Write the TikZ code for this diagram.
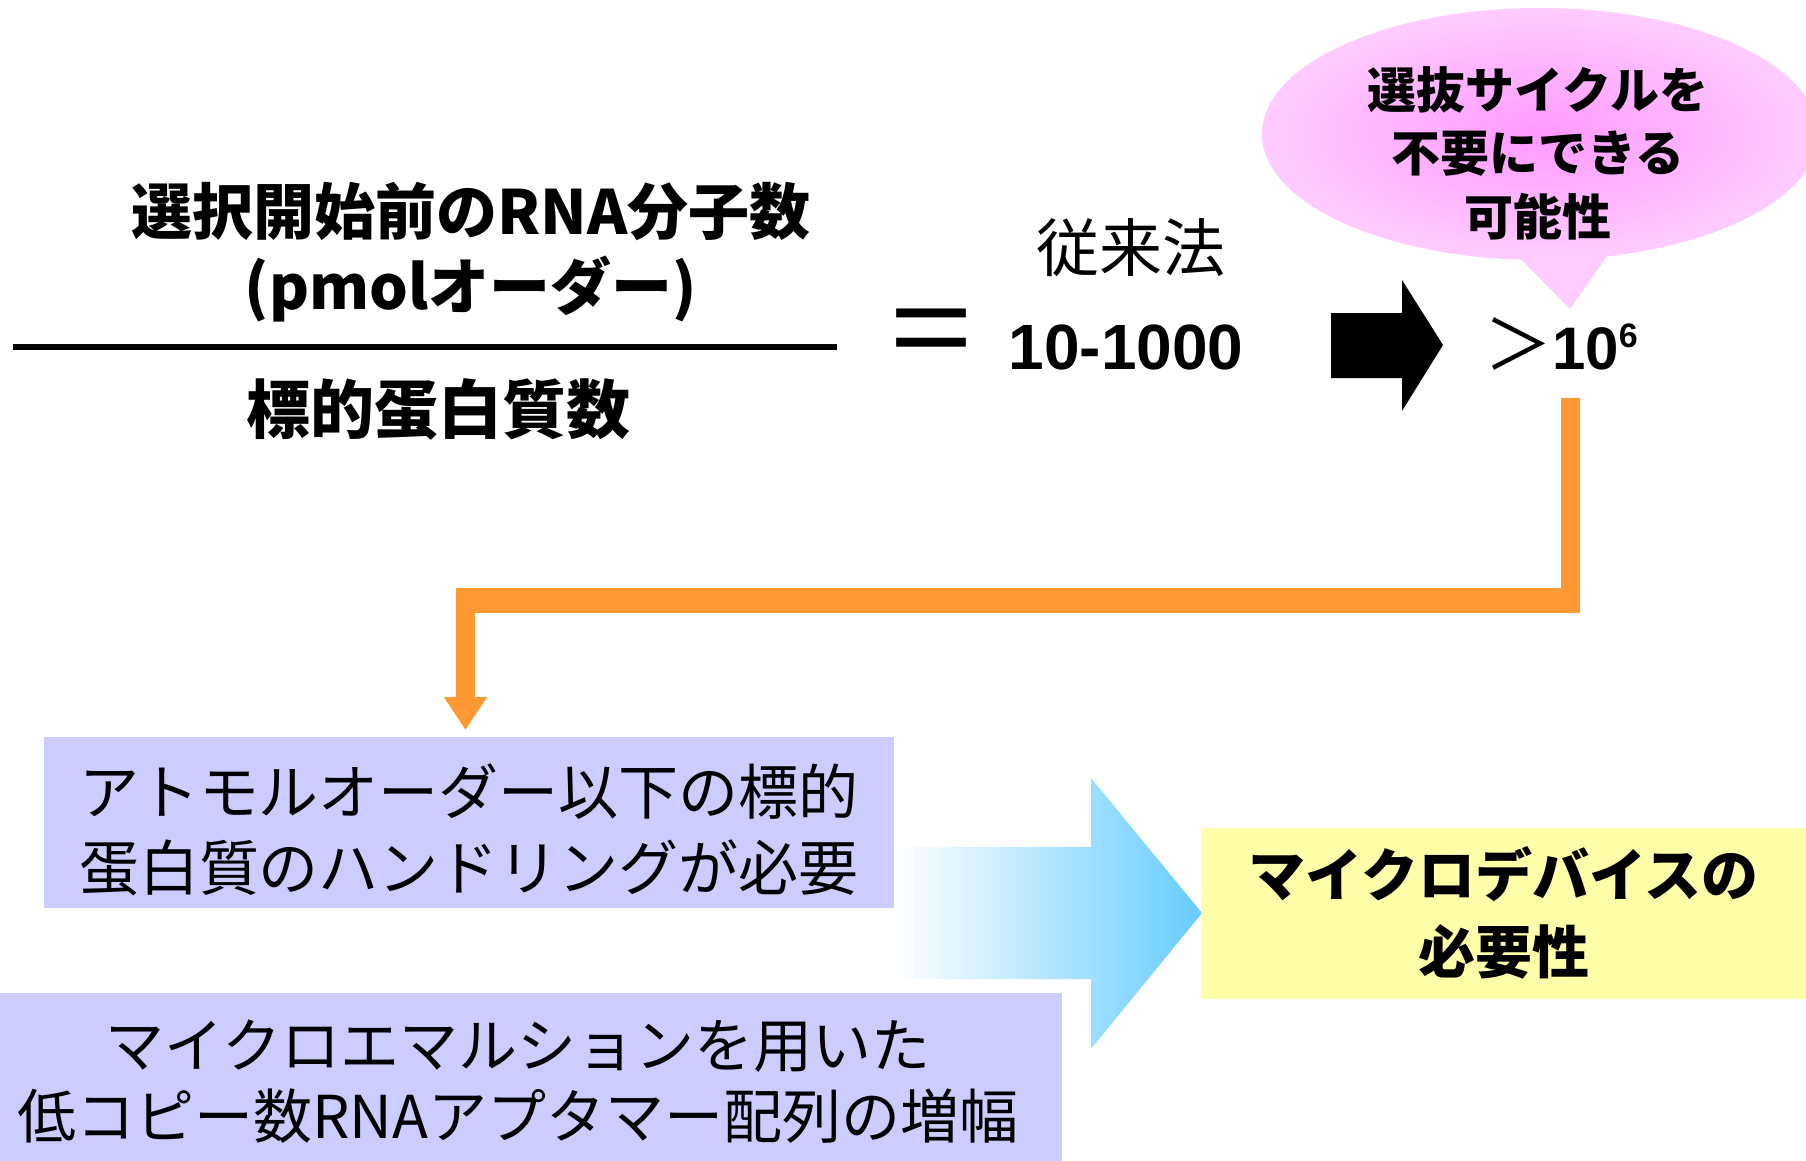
\documentclass[tikz,border=0pt]{standalone}
\usepackage{fontspec}
\setmainfont{Noto Sans CJK JP}
\newfontfamily\arialf{Liberation Sans}
\usetikzlibrary{arrows.meta}
\definecolor{lav}{HTML}{CCCCFF}
\definecolor{yel}{HTML}{FFFFAA}
\definecolor{orangec}{HTML}{FF9933}
\definecolor{arrblue}{HTML}{66CCFF}
\definecolor{pinkin}{HTML}{FF99FF}
\definecolor{pinkout}{HTML}{FFCCFF}
\tikzset{
  jtext/.style={inner sep=0pt, align=center},
  bbox/.style={fill=lav, inner sep=0pt, align=center},
  orline/.style={draw=orangec, line width=9.5pt},
}
\begin{document}
\begin{tikzpicture}[x=0.5pt,y=-0.5pt]
\useasboundingbox (0,0) rectangle (1806,1161);
\clip (0,0) rectangle (1806,1161);
% fraction
\node[jtext, font=\bfseries\fontsize{30.5pt}{37.5pt}\selectfont] (num) at (471,252) {選択開始前のRNA分子数\\(pmolオーダー)};
\coordinate (barL) at (13,347);
\coordinate (barR) at (837,347);
\draw[line width=3pt] (barL) -- (barR);
\node[jtext, font=\bfseries\fontsize{32pt}{32pt}\selectfont] (den) at (438,409) {標的蛋白質数};
\node[jtext, font=\fontsize{48pt}{48pt}\selectfont] (eq) at (931,343) {\scalebox{1}[1.35]{＝}};
\node[jtext, font=\fontsize{31.5pt}{31.5pt}\selectfont] (trad) at (1131,248) {従来法};
\node[jtext, anchor=base, font=\arialf\bfseries\fontsize{32pt}{32pt}\selectfont] (range) at (1126,369) {10-1000};
% black block arrow
\fill (1331,313) -- (1402,313) -- (1402,280) -- (1443,345) -- (1402,411) -- (1402,378) -- (1331,378) -- cycle;
% callout
\fill[pinkout] (1512,250) -- (1615,245) -- (1570,309) -- cycle;
\shade[inner color=pinkin, outer color=pinkout] (1540,134) ellipse [x radius=278, y radius=126];
\node[jtext, font=\bfseries\fontsize{24.5pt}{31.75pt}\selectfont] (call) at (1538,153) {選抜サイクルを\\不要にできる\\可能性};
% >10^6
\node[jtext, anchor=base] (big) at (1561,369) {{\fontsize{34pt}{34pt}\selectfont ＞}{\arialf\bfseries\fontsize{30pt}{30pt}\selectfont 10\raisebox{11pt}{\fontsize{17pt}{17pt}\selectfont 6}}};
% orange connector
\coordinate (oTop) at (1570,398);
\coordinate (oRC) at (1570,613);
\coordinate (oHR) at (1580,600.5);
\coordinate (oHL) at (456,600.5);
\coordinate (oLC) at (465.5,600);
\coordinate (oTip) at (465.5,730);
\draw[orline] (oTop) -- (oRC);
\draw[draw=orangec, line width=12.5pt] (oHR) -- (oHL);
\draw[orline, -{Triangle[width=20.5pt, length=16.5pt]}] (oLC) -- (oTip);
% gradient arrow
\shade[left color=white, right color=arrblue] (896,847) -- (1091,847) -- (1091,778) -- (1202,913) -- (1091,1049) -- (1091,979) -- (896,979) -- cycle;
% boxes
\node[bbox, minimum width=425pt, minimum height=85.5pt] (b1) at (469,822.5) {};
\node[jtext, font=\fontsize{30pt}{38pt}\selectfont] (b1t) at (469,830) {アトモルオーダー以下の標的\\蛋白質のハンドリングが必要};
\node[bbox, minimum width=531pt, minimum height=84pt] (b2) at (531,1077) {};
\node[jtext, font=\fontsize{29.5pt}{35.5pt}\selectfont] (b2t) at (518,1082) {マイクロエマルションを用いた\\低コピー数RNAアプタマー配列の増幅};
\node[fill=yel, inner sep=0pt, minimum width=302.5pt, minimum height=85.5pt, align=center, font=\bfseries\fontsize{28.5pt}{38.5pt}\selectfont] (yb) at (1503.5,913) {マイクロデバイスの\\必要性};
\end{tikzpicture}
\end{document}
